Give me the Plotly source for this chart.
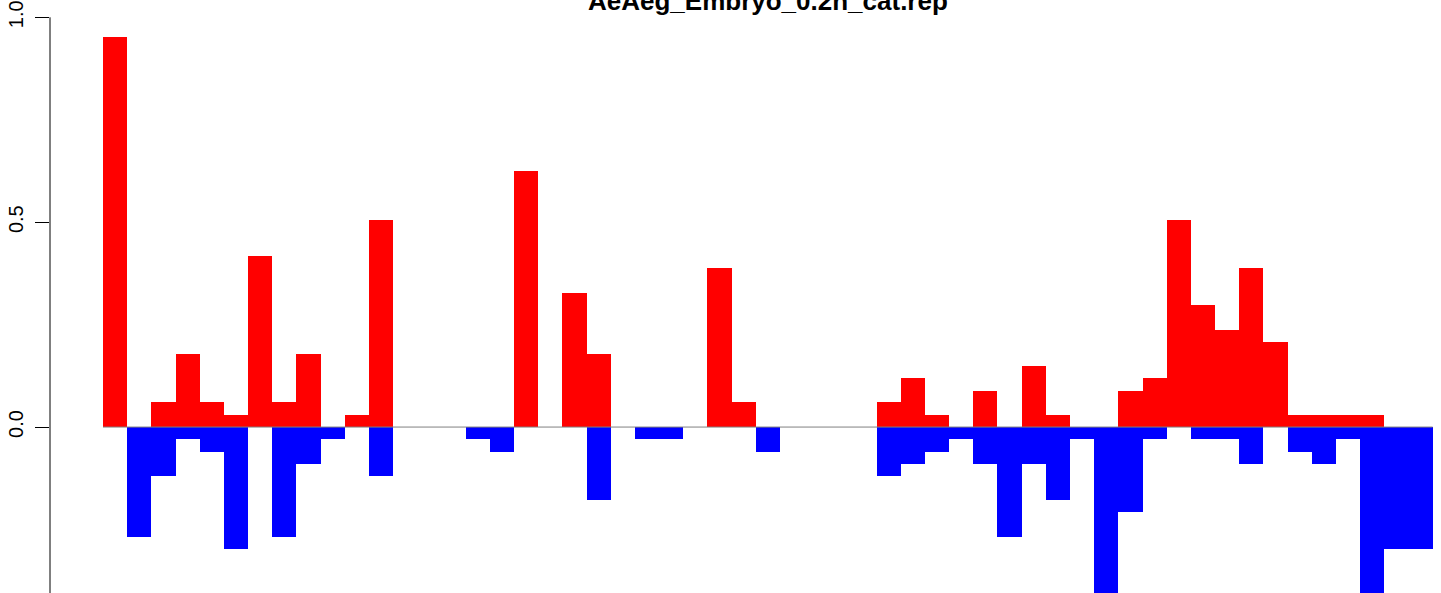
import plotly.graph_objects as go

# bins (histogram cells) and values
bins = list(range(55))
red_vals = [0.952, 0, 0.060, 0.179, 0.060, 0.030, 0.417, 0.060, 0.179, 0, 0.030, 0.506,
            0, 0, 0, 0, 0, 0.625, 0, 0.327, 0.179, 0, 0, 0, 0, 0.387, 0.060, 0,
            0, 0, 0, 0, 0.060, 0.119, 0.030, 0, 0.089, 0, 0.149, 0.030, 0, 0,
            0.089, 0.119, 0.506, 0.298, 0.238, 0.387, 0.208, 0.030, 0.030, 0.030, 0.030, 0, 0]
blue_vals = [0, -0.268, -0.119, -0.030, -0.060, -0.298, 0, -0.268, -0.089, -0.030, 0, -0.119,
             0, 0, 0, -0.030, -0.060, 0, 0, 0, -0.179, 0, -0.030, -0.030, 0, 0, 0, -0.060,
             0, 0, 0, 0, -0.119, -0.089, -0.060, -0.030, -0.089, -0.268, -0.089, -0.179, -0.030, -0.46,
             -0.208, -0.030, 0, -0.030, -0.030, -0.089, 0, -0.060, -0.089, -0.030, -0.46, -0.298, -0.298]
title = "AeAeg_Embryo_0.2h_cat.rep"
y_ticks = [0.0, 0.5, 1.0]
y_ticklabels = ["0.0", "0.5", "1.0"]

FONT = "Liberation Sans, Arial, Helvetica, sans-serif"

fig = go.Figure()
fig.add_trace(go.Bar(x=bins, y=red_vals, width=1, marker=dict(color="#FF0000", line=dict(width=0)),
                     showlegend=False, hoverinfo="x+y"))
fig.add_trace(go.Bar(x=bins, y=blue_vals, width=1, marker=dict(color="#0000FF", line=dict(width=0)),
                     showlegend=False, hoverinfo="x+y"))
# zero reference line spanning the bins
fig.add_trace(go.Scatter(x=[bins[0] - 0.5, bins[-1] + 0.5], y=[0, 0], mode="lines",
                         line=dict(color="#808080", width=1), showlegend=False, hoverinfo="skip"))

# y axis line from lowest to highest tick (R style)
fig.add_shape(type="line", xref="paper", x0=0, x1=0, yref="y", y0=-0.5, y1=y_ticks[-1],
              line=dict(color="black", width=1))

fig.add_annotation(text="<b>" + title + "</b>", xref="paper", x=(768 - 50) / 1391,
                   yref="paper", y=1, yanchor="middle", yshift=-1, showarrow=False,
                   font=dict(family=FONT, size=26, color="black"))

fig.update_layout(
    template="none",
    width=1441, height=593,
    margin=dict(l=50, r=0, t=0, b=0, pad=0, autoexpand=False),
    paper_bgcolor="white", plot_bgcolor="white",
    barmode="overlay", bargap=0,
    xaxis=dict(range=[-2.692, 54.846], visible=False, showgrid=False, zeroline=False,
               automargin=False),
    yaxis=dict(range=[-0.405, 1.0422], showgrid=False, zeroline=False, showline=False,
               automargin=False,
               tickmode="array", tickvals=y_ticks, ticktext=y_ticklabels,
               ticks="outside", ticklen=14, tickwidth=1, tickcolor="black",
               ticklabelstandoff=4,
               tickangle=-90, tickfont=dict(family=FONT, size=20, color="black")),
)

fig.write_html("out.html", config={"displayModeBar": False},
               post_script="document.body.style.margin='0';document.body.style.padding='0';"
                           "document.body.style.overflow='hidden';")
